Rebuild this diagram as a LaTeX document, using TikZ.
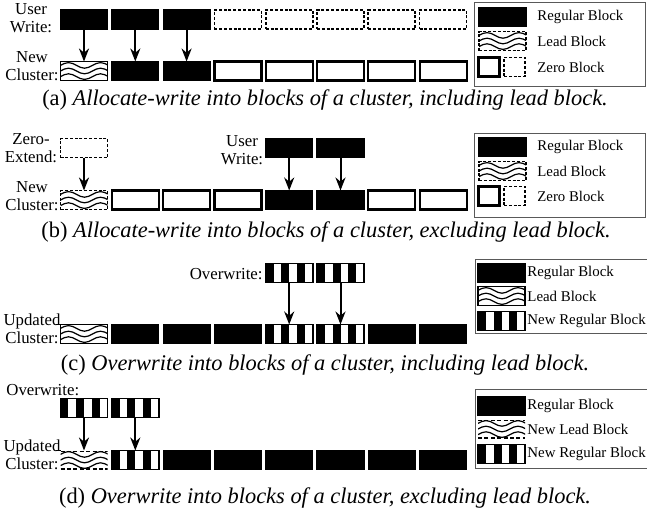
\documentclass[tikz,border=0pt]{standalone}
\usepackage{fontspec}
\setmainfont{Liberation Serif}
\usetikzlibrary{arrows.meta}

\tikzset{
  blk/.style={minimum width=23.5pt, minimum height=9.5pt, inner sep=0pt, outer sep=0pt},
  regblk/.style={blk, draw=black, fill=black, line width=0.6pt},
  zeroblk/.style={blk, draw=black, fill=white, line width=1.1pt},
  dashblk/.style={blk, draw=black, line width=0.85pt, dash pattern=on 1.5pt off 0.9pt},
  waves/.style={path picture={
      \foreach \dy in {-2.8pt,0pt,2.8pt}
        \draw[solid, line width=0.6pt] ([yshift=\dy]path picture bounding box.west)
          sin ++(4pt,1.4pt) cos ++(4pt,-1.4pt) sin ++(4pt,-1.4pt)
          cos ++(4pt,1.4pt) sin ++(4pt,1.4pt) cos ++(4pt,-1.4pt);
    }},
  leadblk/.style={blk, draw=black, line width=0.9pt, waves},
  dashleadblk/.style={blk, draw=black, line width=0.85pt, dash pattern=on 1.5pt off 0.9pt, waves},
  newleadblk/.style={blk, path picture={
      \foreach \dy in {-2.8pt,0pt,2.8pt}
        \draw[line width=0.6pt] ([yshift=\dy]path picture bounding box.west)
          sin ++(4pt,1.4pt) cos ++(4pt,-1.4pt) sin ++(4pt,-1.4pt)
          cos ++(4pt,1.4pt) sin ++(4pt,1.4pt) cos ++(4pt,-1.4pt);
      \draw[line width=0.8pt, dash pattern=on 2pt off 1.2pt]
        ([yshift=-0.4pt]path picture bounding box.north west) -- ([yshift=-0.4pt]path picture bounding box.north east);
      \draw[line width=0.8pt, dash pattern=on 2pt off 1.2pt]
        ([yshift=0.4pt]path picture bounding box.south west) -- ([yshift=0.4pt]path picture bounding box.south east);
    }},
  newblk/.style={blk, draw=black, fill=black, line width=0.8pt, path picture={
      \foreach \i in {1,3,5}
        \fill[white] ([xshift=\i*3.92pt]path picture bounding box.south west)
          rectangle ([xshift=\i*3.92pt+3.92pt]path picture bounding box.north west);
    }},
  sqblk/.style={minimum width=10.5pt, minimum height=9.5pt, inner sep=0pt, outer sep=0pt},
  lbl/.style={align=center, inner sep=0pt, font=\fontsize{8.4}{9.2}\selectfont},
  legtxt/.style={anchor=west, inner sep=0pt, font=\fontsize{7.4}{8}\selectfont},
  legtxtw/.style={anchor=west, inner sep=0pt, font=\fontsize{7.45}{8}\selectfont},
  legbox/.style={draw=black!65, line width=0.5pt},
  capt/.style={inner sep=0pt, font=\fontsize{11.2}{12}\selectfont},
  arr/.style={-{Stealth[length=6.5pt,width=5pt]}, line width=1pt},
}

\begin{document}
\begin{tikzpicture}[x=0.5pt,y=-0.5pt]
\useasboundingbox (0,0) rectangle (647,515);

% (a) allocate-write, including lead block
\node[lbl] (uwa) at (31,18) {User\\Write:};
\node[regblk]  (ua0) at (84.0,19.5) {};
\node[regblk]  (ua1) at (135.3,19.5) {};
\node[regblk]  (ua2) at (186.6,19.5) {};
\node[dashblk] (ua3) at (237.9,19.5) {};
\node[dashblk] (ua4) at (289.2,19.5) {};
\node[dashblk] (ua5) at (340.5,19.5) {};
\node[dashblk] (ua6) at (391.8,19.5) {};
\node[dashblk] (ua7) at (443.1,19.5) {};

\node[lbl] (nca) at (32,66) {New\\Cluster:};
\node[leadblk] (na0) at (84.0,71) {};
\node[regblk]  (na1) at (135.3,71) {};
\node[regblk]  (na2) at (186.6,71) {};
\node[zeroblk] (na3) at (237.9,71) {};
\node[zeroblk] (na4) at (289.2,71) {};
\node[zeroblk] (na5) at (340.5,71) {};
\node[zeroblk] (na6) at (391.8,71) {};
\node[zeroblk] (na7) at (443.1,71) {};

\draw[arr] (ua0) -- (na0);
\draw[arr] (ua1) -- (na1);
\draw[arr] (ua2) -- (na2);

\draw[legbox] (474,2) rectangle (645,86);
\node[regblk]      (la1) at (502.5,17) {};
\node[dashleadblk] (la2) at (502.5,41) {};
\node[sqblk, draw=black, line width=1.1pt] (la3) at (489,67) {};
\node[sqblk, draw=black, line width=0.85pt, dash pattern=on 1.5pt off 0.9pt] (la4) at (514.5,67) {};
\node[legtxt] (ta1) at (537,17) {Regular Block};
\node[legtxt] (ta2) at (537,41) {Lead Block};
\node[legtxt] (ta3) at (537,67) {Zero Block};

\node[capt] (capa) at (325,100) {(a) \textit{Allocate-write into blocks of a cluster, including lead block.}};

% (b) allocate-write, excluding lead block
\node[lbl] (zeb) at (31,148) {Zero-\\Extend:};
\node[dashblk] (zb0) at (84.0,148) {};
\node[lbl] (uwb) at (242,150) {User\\Write:};
\node[regblk]  (ub4) at (289.2,148) {};
\node[regblk]  (ub5) at (340.5,148) {};

\node[lbl] (ncb) at (32,196) {New\\Cluster:};
\node[dashleadblk] (nb0) at (84.0,200) {};
\node[zeroblk] (nb1) at (135.3,200) {};
\node[zeroblk] (nb2) at (186.6,200) {};
\node[zeroblk] (nb3) at (237.9,200) {};
\node[regblk]  (nb4) at (289.2,200) {};
\node[regblk]  (nb5) at (340.5,200) {};
\node[zeroblk] (nb6) at (391.8,200) {};
\node[zeroblk] (nb7) at (443.1,200) {};

\draw[arr] (zb0) -- (nb0);
\draw[arr] (ub4) -- (nb4);
\draw[arr] (ub5) -- (nb5);

\draw[legbox] (474,133) rectangle (645,217);
\node[regblk]      (lb1) at (502.5,147) {};
\node[dashleadblk] (lb2) at (502.5,171) {};
\node[sqblk, draw=black, line width=1.1pt] (lb3) at (489,196) {};
\node[sqblk, draw=black, line width=0.85pt, dash pattern=on 1.5pt off 0.9pt] (lb4) at (514.5,196) {};
\node[legtxt] (tb1) at (537,147) {Regular Block};
\node[legtxt] (tb2) at (537,171) {Lead Block};
\node[legtxt] (tb3) at (537,196) {Zero Block};

\node[capt] (capb) at (326,232) {(b) \textit{Allocate-write into blocks of a cluster, excluding lead block.}};

% (c) overwrite, including lead block
\node[lbl, anchor=east] (owc) at (263,274) {Overwrite:};
\node[newblk] (oc4) at (289.2,273) {};
\node[newblk] (oc5) at (340.5,273) {};

\node[lbl] (ucc) at (32,329) {Updated\\Cluster:};
\node[leadblk] (nc0) at (84.0,334) {};
\node[regblk]  (nc1) at (135.3,334) {};
\node[regblk]  (nc2) at (186.6,334) {};
\node[regblk]  (nc3) at (237.9,334) {};
\node[newblk]  (nc4) at (289.2,334) {};
\node[newblk]  (nc5) at (340.5,334) {};
\node[regblk]  (nc6) at (391.8,334) {};
\node[regblk]  (nc7) at (443.1,334) {};
\draw[line width=0.5pt] (nc0.north west) -- ++(-5,0);

\draw[arr] (oc4) -- (nc4);
\draw[arr] (oc5) -- (nc5);

\draw[legbox] (475,259) rectangle (665,333);
\node[regblk]  (lc1) at (501.5,273) {};
\node[leadblk] (lc2) at (501.5,296) {};
\node[newblk]  (lc3) at (501.5,321) {};
\node[legtxtw] (tc1) at (527,273) {Regular Block};
\node[legtxtw] (tc2) at (527,296) {Lead Block};
\node[legtxtw] (tc3) at (527,321) {New Regular Block};

\node[capt] (capc) at (325,365) {(c) \textit{Overwrite into blocks of a cluster, including lead block.}};

% (d) overwrite, excluding lead block
\node[lbl, anchor=west] (owd) at (6,390) {Overwrite:};
\node[newblk] (od0) at (84.0,408) {};
\node[newblk] (od1) at (135.3,408) {};

\node[lbl] (ucd) at (32,455) {Updated\\Cluster:};
\node[newleadblk] (nd0) at (84.0,460) {};
\node[newblk]  (nd1) at (135.3,460) {};
\node[regblk]  (nd2) at (186.6,460) {};
\node[regblk]  (nd3) at (237.9,460) {};
\node[regblk]  (nd4) at (289.2,460) {};
\node[regblk]  (nd5) at (340.5,460) {};
\node[regblk]  (nd6) at (391.8,460) {};
\node[regblk]  (nd7) at (443.1,460) {};
\draw[line width=0.5pt] (nd0.north west) -- ++(-5,0);

\draw[arr] (od0) -- (nd0);
\draw[arr] (od1) -- (nd1);

\draw[legbox] (475,389) rectangle (665,468);
\node[regblk]     (ld1) at (501.5,406) {};
\node[newleadblk] (ld2) at (501.5,429) {};
\node[newblk]     (ld3) at (501.5,454) {};
\node[legtxtw] (td1) at (527,406) {Regular Block};
\node[legtxtw] (td2) at (527,429) {New Lead Block};
\node[legtxtw] (td3) at (527,454) {New Regular Block};

\node[capt] (capd) at (325,498) {(d) \textit{Overwrite into blocks of a cluster, excluding lead block.}};
\end{tikzpicture}
\end{document}
